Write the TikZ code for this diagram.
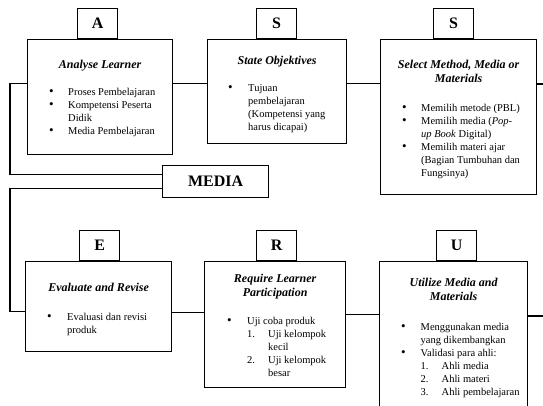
\documentclass[tikz,border=0pt]{standalone}
\usepackage{fontspec}
\setmainfont{Liberation Serif}
\usepackage{array}
\newcommand{\bul}{{\fontsize{13}{13}\selectfont\textbullet}}

\begin{document}
\begin{tikzpicture}[x=1pt,y=-1pt,
		frame/.style={draw,line width=1.3pt,inner sep=0pt},
		tab/.style={frame,minimum width=40pt,minimum height=30pt,font=\fontsize{16}{18}\selectfont\bfseries},
		title/.style={inner sep=0pt,anchor=base,align=center,font=\fontsize{12}{14}\selectfont\bfseries\itshape},
		items/.style={inner sep=0pt,anchor=base west,font=\fontsize{10.5}{13}\selectfont},
		link/.style={line width=1.3pt}]
		\useasboundingbox (0,0) rectangle (543,405);
		\clip (0,0) rectangle (543,405);
		% upper row
		\node[frame,minimum width=145pt,minimum height=115pt,anchor=north west] (analyse) at (27,39) {};
		\node[frame,minimum width=139pt,minimum height=104pt,anchor=north west] (state) at (207,39) {};
		\node[frame,minimum width=156pt,minimum height=155pt,anchor=north west] (select) at (380,39) {};
		\node[tab,anchor=south west] (tabA) at (77,39) {A};
		\node[tab,anchor=south west] (tabS) at (256,39) {S};
		\node[tab,anchor=south west] (tabSS) at (433,39) {S};
		% lower row
		\node[frame,minimum width=146pt,minimum height=90pt,anchor=north west] (evaluate) at (25,261) {};
		\node[frame,minimum width=141pt,minimum height=126pt,anchor=north west] (require) at (204,261) {};
		\node[frame,minimum width=148pt,minimum height=160pt,anchor=north west] (utilize) at (379,261) {};
		\node[tab,anchor=south west] (tabE) at (79,261) {E};
		\node[tab,anchor=south west] (tabR) at (256,261) {R};
		\node[tab,anchor=south west] (tabU) at (436,261) {U};
		\node[tab,minimum width=106pt,minimum height=32pt,anchor=north west] (media) at (162,165) {MEDIA};
		% connectors
		\coordinate (rimT) at (543,84);
		\coordinate (rimB) at (543,316);
		\draw[link] ([yshift=14pt]analyse.east) -- ([yshift=14pt]analyse.east -| state.west);
		\draw[link] ([yshift=8pt]state.east) -- ([yshift=8pt]state.east -| select.west);
		\draw[link] (select.east |- rimT) -- (rimT);
		\draw[link] ([yshift=14pt]analyse.west) -- ++(-17,0) |- ([yshift=7pt]media.west);
		\draw[link] ([yshift=-7pt]media.west) -- ++(-152,0) |- ([yshift=-5pt]evaluate.west);
		\draw[link] ([yshift=-6pt]evaluate.east) -- ([yshift=-6pt]evaluate.east -| require.west);
		\draw[link] ([yshift=10pt]require.east) -- ([yshift=10pt]require.east -| utilize.west);
		\draw[link] (utilize.east |- rimB) -- (rimB);
		% titles (base = last line)
		\node[title] (analyseT) at (analyse.center |- 0,68) {Analyse Learner};
		\node[title] (stateT) at (state.center |- 0,64) {State Objektives};
		\node[title] (selectT) at (select.center |- 0,82) {Select Method, Media or\\ Materials};
		\node[title] (evaluateT) at (evaluate.center |- 0,291) {Evaluate and Revise};
		\node[title] (requireT) at (require.center |- 0,296) {Require Learner\\ Participation};
		\node[title] (utilizeT) at (utilize.center |- 0,300) {Utilize Media and\\ Materials};
		% lists
		\node[items] (analyseL) at (49,95) {\begin{tabular}[t]{@{}p{19pt}@{}l@{}}
				\bul & Proses Pembelajaran\\
				\bul & Kompetensi Peserta\\
				& Didik\\
				\bul & Media Pembelajaran
			\end{tabular}};
		\node[items] (stateL) at (228,91) {\begin{tabular}[t]{@{}p{20pt}@{}l@{}}
				\bul & Tujuan\\
				& pembelajaran\\
				& (Kompetensi yang\\
				& harus dicapai)
			\end{tabular}};
		\node[items] (selectL) at (402,111) {\begin{tabular}[t]{@{}p{19pt}@{}l@{}}
				\bul & Memilih metode (PBL)\\
				\bul & Memilih media (\textit{Pop-}\\
				& \textit{up Book} Digital)\\
				\bul & Memilih materi ajar\\
				& (Bagian Tumbuhan dan\\
				& Fungsinya)
			\end{tabular}};
		\node[items] (evaluateL) at (47,320) {\begin{tabular}[t]{@{}p{20pt}@{}l@{}}
				\bul & Evaluasi dan revisi\\
				& produk
			\end{tabular}};
		\node[items] (requireL) at (227,324) {\begin{tabular}[t]{@{}p{20pt}@{}p{21pt}@{}l@{}}
				\bul & \multicolumn{2}{@{}l@{}}{Uji coba produk}\\
				& 1. & Uji kelompok\\
				& & kecil\\
				& 2. & Uji kelompok\\
				& & besar
			\end{tabular}};
		\node[items] (utilizeL) at (401,330) {\begin{tabular}[t]{@{}p{19.5pt}@{}p{21pt}@{}l@{}}
				\bul & \multicolumn{2}{@{}l@{}}{Menggunakan media}\\
				& \multicolumn{2}{@{}l@{}}{yang dikembangkan}\\
				\bul & \multicolumn{2}{@{}l@{}}{Validasi para ahli:}\\
				& 1. & Ahli media\\
				& 2. & Ahli materi\\
				& 3. & Ahli pembelajaran
			\end{tabular}};
\end{tikzpicture}
\end{document}
